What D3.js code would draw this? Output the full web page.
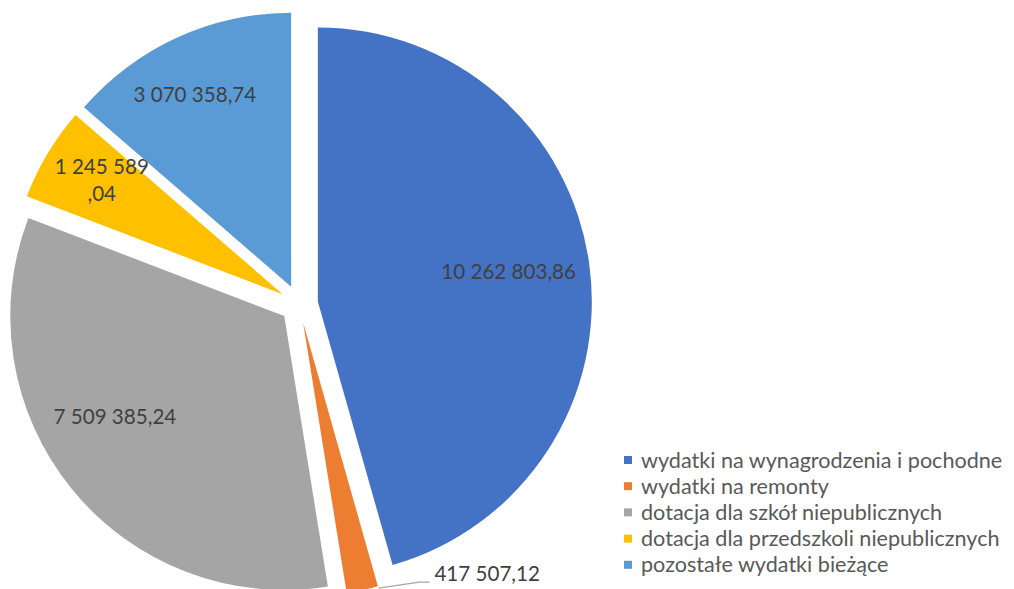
<!DOCTYPE html>
<html>
<head>
<meta charset="utf-8">
<script src="https://cdn.jsdelivr.net/npm/d3@7"></script>
<style>
  html, body { margin: 0; padding: 0; background: #fff; }
  svg { display: block; }
  text { font-family: Lato, "Open Sans", sans-serif; }
</style>
</head>
<body>
<svg id="chart" width="1014" height="589"></svg>
<script>
// ---- data ----
const categories = [
  "wydatki na wynagrodzenia i pochodne",
  "wydatki na remonty",
  "dotacja dla szkół niepublicznych",
  "dotacja dla przedszkoli niepublicznych",
  "pozostałe wydatki bieżące"
];
const values = [10262803.86, 417507.12, 7509385.24, 1245589.04, 3070358.74];
const labelTexts = ["10 262 803,86", "417 507,12", "7 509 385,24", "1 245 589\n,04", "3 070 358,74"];
const colors = ["#4472C4", "#ED7D31", "#A5A5A5", "#FFC000", "#5B9BD5"];

// ---- layout ----
const W = 1014, H = 589;
const cx = 299, cy = 304, R = 274, explode = 19;
const labelR = 0.74 * R;
// fine nudges of inside labels (Excel best-fit)
const labelNudge = [[-10, -2], null, [-12, -27], [-7, -10], [-12, -8]];

const svg = d3.select("#chart");
const pie = d3.pie().sort(null).value(d => d).startAngle(0).endAngle(2 * Math.PI);
const arcs = pie(values);
const arc = d3.arc().innerRadius(0).outerRadius(R);

const dirOf = a => [Math.sin(a), -Math.cos(a)];

const g = svg.append("g").attr("transform", `translate(${cx},${cy})`);

arcs.forEach((a, i) => {
  const mid = (a.startAngle + a.endAngle) / 2;
  const [dx, dy] = dirOf(mid);
  const ox = dx * explode, oy = dy * explode;
  const sg = g.append("g").attr("transform", `translate(${ox},${oy})`);
  sg.append("path").attr("d", arc(a)).attr("fill", colors[i]);

  if (labelNudge[i]) {
    const lx = dx * labelR + labelNudge[i][0];
    const ly = dy * labelR + labelNudge[i][1];
    const lines = labelTexts[i].split("\n");
    const lh = 27;
    const t = sg.append("text")
      .attr("x", lx).attr("y", ly)
      .attr("text-anchor", "middle")
      .attr("fill", "#404040")
      .attr("font-size", 20.6);
    lines.forEach((ln, k) => {
      t.append("tspan")
        .attr("x", lx)
        .attr("y", ly + (k - (lines.length - 1) / 2) * lh)
        .attr("dy", "0.35em")
        .text(ln);
    });
  } else {
    // outside label with leader line
    const [sx, sy] = dirOf(a.startAngle);
    const p0 = [sx * (R + 2), sy * (R + 2)];
    const p1 = [p0[0] + 41, p0[1] - 6];
    const p2 = [p1[0] + 10, p1[1]];
    sg.append("polyline")
      .attr("points", [p0, p1, p2].map(p => p.join(",")).join(" "))
      .attr("fill", "none").attr("stroke", "#A6A6A6").attr("stroke-width", 1.3);
    sg.append("text")
      .attr("x", p2[0] + 5).attr("y", p2[1] - 1)
      .attr("fill", "#404040")
      .attr("font-size", 20.6)
      .text(labelTexts[i]);
  }
});

// ---- legend ----
const legend = svg.append("g").attr("transform", "translate(624,460)");
categories.forEach((c, i) => {
  const row = legend.append("g").attr("transform", `translate(0,${i * 26.2})`);
  row.append("rect").attr("x", 0).attr("y", -4).attr("width", 8).attr("height", 8).attr("fill", colors[i]);
  row.append("text").attr("x", 17).attr("y", 0).attr("dy", "0.35em")
    .attr("fill", "#595959").attr("font-size", 21.6).text(c);
});
</script>
</body>
</html>
